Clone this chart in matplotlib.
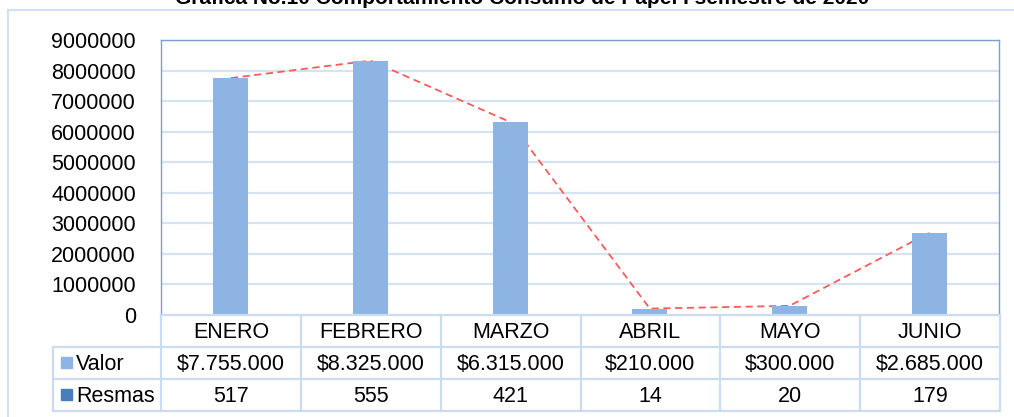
import matplotlib
matplotlib.use("Agg")
import matplotlib.pyplot as plt
from matplotlib.patches import Rectangle
from matplotlib.lines import Line2D

plt.rcParams['font.family'] = ['Liberation Sans', 'DejaVu Sans']

categories = ["ENERO", "FEBRERO", "MARZO", "ABRIL", "MAYO", "JUNIO"]
valor = [7755000, 8325000, 6315000, 210000, 300000, 2685000]
resmas = [517, 555, 421, 14, 20, 179]
valor_labels = ["$7.755.000", "$8.325.000", "$6.315.000", "$210.000", "$300.000", "$2.685.000"]
resmas_labels = ["517", "555", "421", "14", "20", "179"]
yticks = list(range(0, 9000001, 1000000))
title = "Grafica No.10 Comportamiento Consumo de Papel I semestre de 2020"

W, H = 1014, 417
fig = plt.figure(figsize=(W / 100, H / 100), dpi=100)

def fx(px):
    return px / W

def fy(py):
    return 1 - py / H

# outer chart frame
fig.patches.append(Rectangle((fx(8), fy(425)), fx(1030) - fx(8), fy(10) - fy(425),
                             transform=fig.transFigure, fill=False,
                             edgecolor='#d3e0f1', lw=1.5))

# plot area
L, R, T, B = 161, 999, 40, 315
ax = fig.add_axes([fx(L), fy(B), fx(R) - fx(L), fy(T) - fy(B)])
x = list(range(len(categories)))
ax.set_xlim(-0.5, len(categories) - 0.5)
ax.set_ylim(0, 9000000)
ax.set_yticks(yticks)
fs = 15.5
ax.set_yticklabels([str(v) for v in yticks], fontsize=fs)
ax.tick_params(axis='y', length=0, pad=18)
ax.set_xticks([])
for v in yticks[1:]:
    ax.axhline(v, color='#d6e3f3', lw=1.6, zorder=1)
for s in ['top', 'left', 'right']:
    ax.spines[s].set_color('#7c9fd1')
    ax.spines[s].set_linewidth(1.0)
ax.spines['bottom'].set_visible(False)

ax.plot(x, valor, color='#ff5a5a', lw=1.3, ls=(0, (4, 2.5)), zorder=2)
ax.plot(x, resmas, color='#f2b9c9', lw=1.3, ls=(0, (4, 2.5)), zorder=2, clip_on=False)
ax.bar(x, valor, width=0.25, color='#8eb4e3', zorder=3)

# data table
tax = fig.add_axes([0, 0, 1, 1])
tax.set_xlim(0, W)
tax.set_ylim(H, 0)
tax.axis('off')
lc = '#cadcf1'
lw = 1.6
colw = (R + 1 - L) / len(categories)
rows = [315, 347, 379, 411]
tax.add_line(Line2D([L, R + 1], [rows[0], rows[0]], color=lc, lw=lw))
for yv in rows[1:]:
    tax.add_line(Line2D([53, R + 1], [yv, yv], color=lc, lw=lw))
tax.add_line(Line2D([53, 53], [rows[1], rows[3]], color=lc, lw=lw))
for i in range(len(categories) + 1):
    xv = L + i * colw
    tax.add_line(Line2D([xv, xv], [rows[0], rows[3]], color=lc, lw=lw))

for i, cat in enumerate(categories):
    cx = L + (i + 0.5) * colw
    tax.text(cx, (rows[0] + rows[1]) / 2 + 1, cat, ha='center', va='center', fontsize=fs)
    tax.text(cx, (rows[1] + rows[2]) / 2 + 1, valor_labels[i], ha='center', va='center', fontsize=fs)
    tax.text(cx, (rows[2] + rows[3]) / 2 + 1, resmas_labels[i], ha='center', va='center', fontsize=fs)

# legend keys
tax.add_patch(Rectangle((61, 357), 11, 11, color='#8eb4e3'))
tax.add_patch(Rectangle((61, 389), 11, 11, color='#4a7ebb'))
tax.text(76, (rows[1] + rows[2]) / 2 + 1, "Valor", ha='left', va='center', fontsize=fs)
tax.text(76, (rows[2] + rows[3]) / 2 + 1, "Resmas", ha='left', va='center', fontsize=fs)

# title (partially cut off at the top, as in the reference)
fig.text(0.515, fy(4), title, ha='center', va='baseline', fontsize=15, fontweight='bold')

fig.savefig("out.png", dpi=100)
